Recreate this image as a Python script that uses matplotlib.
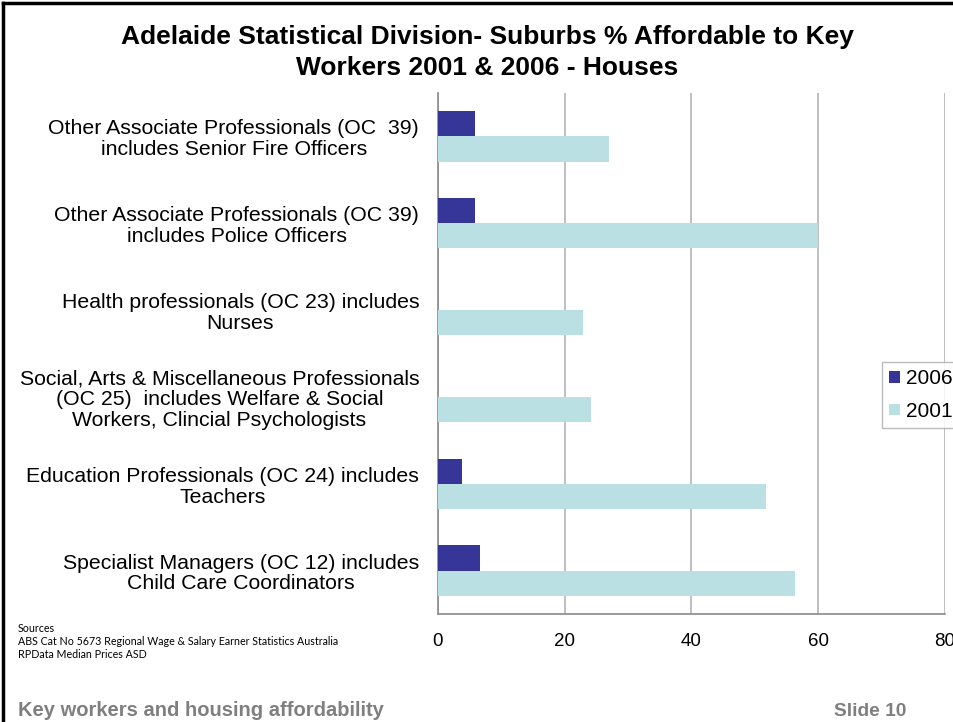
import numpy as np
import matplotlib.pyplot as plt
from matplotlib.lines import Line2D

plt.rcParams['font.family'] = ['Liberation Sans', 'DejaVu Sans']

# Categories, top to bottom
labels = [
    "Other Associate Professionals (OC  39)\nincludes Senior Fire Officers",
    "Other Associate Professionals (OC 39)\nincludes Police Officers",
    "Health professionals (OC 23) includes\nNurses",
    "Social, Arts & Miscellaneous Professionals\n(OC 25)  includes Welfare & Social\nWorkers, Clincial Psychologists",
    "Education Professionals (OC 24) includes\nTeachers",
    "Specialist Managers (OC 12) includes\nChild Care Coordinators",
]
vals_2006 = [5.8, 5.8, 0, 0, 3.8, 6.6]
vals_2001 = [27.0, 60.0, 22.9, 24.1, 51.7, 56.4]
xticks = [0, 20, 40, 60, 80]

W, H = 954, 722
fig = plt.figure(figsize=(W / 100, H / 100), dpi=100)
ax = fig.add_axes([438 / W, 1 - 614 / H, (945 - 438) / W, (614 - 93) / H])

y = np.arange(len(labels))
h = 0.29
ax.barh(y - h / 2, vals_2006, height=h, color='#363699', label='2006', zorder=3)
ax.barh(y + h / 2, vals_2001, height=h, color='#bbe0e3', label='2001', zorder=3)

ax.set_xlim(0, 80)
ax.set_ylim(5.5, -0.5)
ax.set_xticks(xticks)
ax.set_xticklabels([str(t) for t in xticks], fontsize=13.5)
ax.set_yticks(y)
ax.set_yticklabels(labels, fontsize=15.3, multialignment='center', linespacing=1.12)
ax.tick_params(axis='x', length=0, pad=14)
ax.tick_params(axis='y', length=0, pad=13.5)
ax.grid(axis='x', color='#b4b4b4', linewidth=1.2, zorder=0)
for s in ['top', 'right']:
    ax.spines[s].set_visible(False)
for s in ['left', 'bottom']:
    ax.spines[s].set_color('#8a8a8a')
    ax.spines[s].set_linewidth(1.2)

leg = fig.legend(loc='upper left', bbox_to_anchor=(882 / W, 1 - 362 / H),
                 fontsize=15, frameon=True, fancybox=False, edgecolor='#aaaaaa',
                 handlelength=0.5, handleheight=0.5, handletextpad=0.3,
                 borderpad=0.35, labelspacing=0.65, borderaxespad=0)
leg.get_frame().set_linewidth(1.0)

# Title
fig.text(487 / W, 1 - 37 / H, "Adelaide Statistical Division- Suburbs % Affordable to Key",
         ha='center', va='center', fontsize=19, fontweight='bold')
fig.text(487 / W, 1 - 68 / H, "Workers 2001 & 2006 - Houses",
         ha='center', va='center', fontsize=19, fontweight='bold')

# Sources
src = ["Sources",
       "ABS Cat No 5673 Regional Wage & Salary Earner Statistics Australia",
       "RPData Median Prices ASD"]
for i, line in enumerate(src):
    fig.text(18 / W, 1 - (628 + i * 13.5) / H, line, ha='left', va='center',
             fontsize=7.7, family=['Lato', 'DejaVu Sans'])

# Footer
fig.text(18 / W, 1 - 711 / H, "Key workers and housing affordability",
         ha='left', va='center', fontsize=14.5, fontweight='bold', color='#7f7f7f')
fig.text(906 / W, 1 - 711 / H, "Slide 10",
         ha='right', va='center', fontsize=13.8, fontweight='bold', color='#7f7f7f')

# Slide frame
fig.add_artist(Line2D([3 / W, 3 / W], [0, 1 - 3 / H], color='black', linewidth=2.5))
fig.add_artist(Line2D([3 / W, 1], [1 - 3 / H, 1 - 3 / H], color='black', linewidth=2.5))

fig.savefig('out.png', dpi=100)
